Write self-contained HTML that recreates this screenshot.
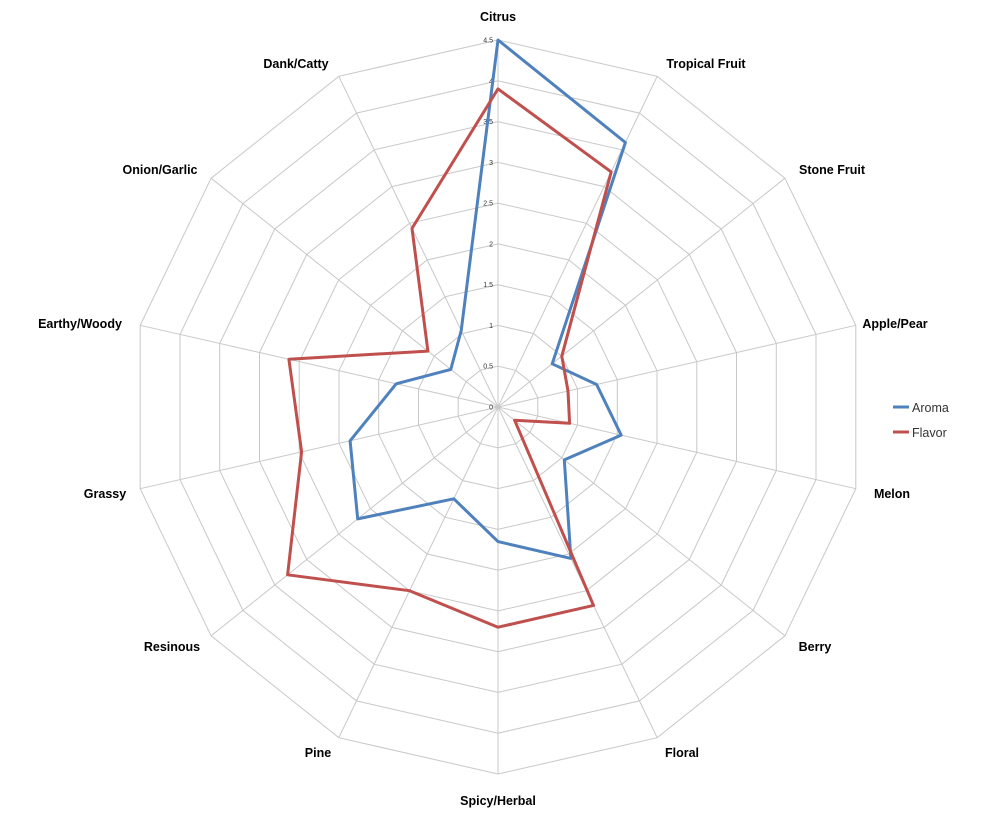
<!DOCTYPE html>
<html><head><meta charset="utf-8">
<style>
html,body{margin:0;padding:0;background:#fff;}
svg text{font-family:"Liberation Sans",sans-serif;}
</style></head>
<body>
<svg id="c" width="1000" height="816" viewBox="0 0 1000 816" xmlns="http://www.w3.org/2000/svg"></svg>
<script>
const svg=document.getElementById('c');
const cx=498,cy=407,R=367,N=14,MAX=4.5;
const labels=[["Citrus",498,21],["Tropical Fruit",706,68],["Stone Fruit",832,174],["Apple/Pear",895,328],["Melon",892,498],["Berry",815,651],["Floral",682,757],["Spicy/Herbal",498,805],["Pine",318,757],["Resinous",172,651],["Grassy",105,498],["Earthy/Woody",80,328],["Onion/Garlic",160,174],["Dank/Catty",296,68]];
const aroma=[4.5,3.6,0.85,1.24,1.55,1.04,2.06,1.65,1.25,2.2,1.86,1.28,0.74,1.04];
const flavor=[3.9,3.2,1.0,0.88,0.9,0.26,2.7,2.7,2.5,3.3,2.47,2.63,1.1,2.43];
function pt(i,v){const a=i*2*Math.PI/N;const r=v/MAX*R;return [cx+r*Math.sin(a),cy-r*Math.cos(a)];}
let h='';
for(let k=1;k<=9;k++){let p=[];for(let i=0;i<N;i++)p.push(pt(i,k*0.5).map(x=>x.toFixed(1)).join(','));h+=`<polygon points="${p.join(' ')}" fill="none" stroke="#c8c8c8" stroke-width="1"/>`;}
for(let i=0;i<N;i++){const [x,y]=pt(i,MAX);h+=`<line x1="${cx}" y1="${cy}" x2="${x.toFixed(1)}" y2="${y.toFixed(1)}" stroke="#c8c8c8" stroke-width="1"/>`;}
for(let k=0;k<=9;k++){const v=k*0.5;const y=cy-v/MAX*R;h+=`<text x="493" y="${(y+2.5).toFixed(1)}" font-size="7" text-anchor="end" fill="#333">${v}</text>`;}
function series(d,c){let p=d.map((v,i)=>pt(i,v).map(x=>x.toFixed(1)).join(','));return `<polygon points="${p.join(' ')}" fill="none" stroke="${c}" stroke-width="3" stroke-linejoin="round"/>`;}
h+=series(aroma,"#4f81bd");h+=series(flavor,"#c0504d");
for(const [t,x,y] of labels)h+=`<text x="${x}" y="${y}" font-size="12.5" font-weight="bold" text-anchor="middle" fill="#000">${t}</text>`;
h+=`<line x1="893" y1="407" x2="909" y2="407" stroke="#4f81bd" stroke-width="3"/><text x="912" y="412" font-size="12.5" fill="#333">Aroma</text>`;
h+=`<line x1="893" y1="432" x2="909" y2="432" stroke="#c0504d" stroke-width="3"/><text x="912" y="437" font-size="12.5" fill="#333">Flavor</text>`;
svg.innerHTML=h;
</script>
</body></html>
